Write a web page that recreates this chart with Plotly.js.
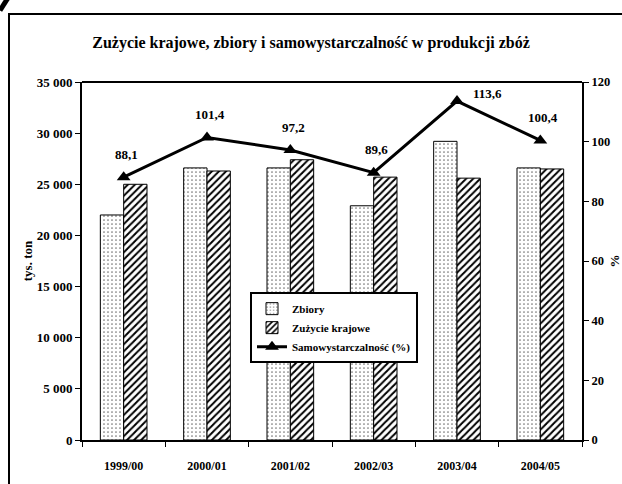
<!DOCTYPE html>
<html><head><meta charset="utf-8">
<script src="https://cdn.plot.ly/plotly-3.0.1.min.js"></script>
<style>body{margin:0;padding:0;background:#fff}#chart{width:622px;height:484px}</style>
</head><body><div id="chart"></div>
<script>
const categories = ["1999/00","2000/01","2001/02","2002/03","2003/04","2004/05"];
const zbiory = [22000, 26600, 26600, 22900, 29200, 26600];
const zuzycie = [25000, 26300, 27400, 25700, 25600, 26500];
const samowystarczalnosc = [88.1, 101.4, 97.2, 89.6, 113.6, 100.4];
const lineLabels = samowystarczalnosc.map(v => v.toFixed(1).replace('.', ','));

const FAM = "Liberation Serif";
const font = {family: FAM, color: "#000", size: 12};

const traces = [
  {type: "bar", name: "Zbiory", x: categories, y: zbiory, legendgroup: "a",
   marker: {color: "#fff", line: {color: "#000", width: 1},
            pattern: {shape: ".", fgcolor: "#777", bgcolor: "#fff", size: 4, solidity: 0.15}}},
  {type: "bar", name: "Zużycie krajowe", x: categories, y: zuzycie, legendgroup: "b",
   marker: {color: "#fff", line: {color: "#000", width: 1},
            pattern: {shape: "/", fgcolor: "#000", bgcolor: "#fff", size: 5, solidity: 0.4}}},
  {type: "scatter", mode: "lines+markers", name: "Samowystarczalność (%)", legendgroup: "c",
   x: categories, y: samowystarczalnosc, yaxis: "y2", cliponaxis: false,
   line: {color: "#000", width: 3}, marker: {symbol: "triangle-up", size: 12, color: "#000"}}
];

const maxVal = Math.max(...samowystarczalnosc);
const labelAnnotations = categories.map((c, i) => {
  const isMax = samowystarczalnosc[i] === maxVal;
  return {x: c, y: samowystarczalnosc[i], xref: "x", yref: "y2", text: lineLabels[i],
          showarrow: false, xanchor: "center", yanchor: "middle",
          xshift: isMax ? 30 : 3, yshift: isMax ? 8 : 23,
          font: {family: FAM, size: 13, color: "#000", weight: "bold"}};
});

const layout = {
  width: 622, height: 484,
  margin: {l: 82, r: 40, t: 82, b: 44},
  paper_bgcolor: "#fff", plot_bgcolor: "#fff",
  font: font,
  separators: ", ",
  showlegend: true,
  barmode: "group", bargap: 0.44, bargroupgap: 0,
  title: {text: "Zużycie krajowe, zbiory i samowystarczalność w produkcji zbóż",
          x: 0.5, xanchor: "center", y: 0.913, yanchor: "middle",
          font: {family: FAM, size: 16, color: "#000", weight: "bold"}},
  xaxis: {type: "category", showline: true, linecolor: "#000", linewidth: 2, mirror: false,
          ticks: "outside", tickson: "boundaries", ticklen: 5, tickcolor: "#000",
          tickfont: {family: FAM, size: 12, weight: "bold"}, showgrid: false,
          ticklabelstandoff: 14},
  yaxis: {range: [0, 35000], dtick: 5000, tickformat: ",d", showline: true, linecolor: "#000",
          linewidth: 2, ticks: "outside", ticklen: 5, tickcolor: "#000", showgrid: false, zeroline: false,
          tickfont: {family: FAM, size: 13, weight: "bold"},
          title: {text: "tys. ton", font: {family: FAM, size: 13, weight: "bold"}, standoff: 1}},
  yaxis2: {range: [0, 120], dtick: 20, overlaying: "y", side: "right", showline: true,
           linecolor: "#000", linewidth: 2, ticks: "outside", ticklen: 5, tickcolor: "#000",
           showgrid: false, zeroline: false,
           tickfont: {family: FAM, size: 12.5, weight: "bold"},
           title: {text: "%", font: {family: FAM, size: 13, weight: "bold"}, standoff: 3}},
  legend: {x: 0.336, y: 0.413, xanchor: "left", yanchor: "top", bgcolor: "#fff",
           bordercolor: "#000", borderwidth: 2,
           font: {family: FAM, size: 11, weight: "bold"}, tracegroupgap: 5,
           traceorder: "normal"},
  annotations: labelAnnotations,
  shapes: [
    {type: "line", xref: "paper", yref: "paper", x0: 0, x1: 1, y0: 1, y1: 1,
     line: {color: "#000", width: 2}},
    {type: "rect", xref: "paper", yref: "paper", x0: -0.146, x1: 1.2, y0: -0.4, y1: 1.19,
     line: {color: "#000", width: 2}},
    {type: "line", xref: "paper", yref: "paper", x0: -0.164, x1: -0.148, y0: 1.2, y1: 1.235,
     line: {color: "#000", width: 5}}
  ]
};

Plotly.newPlot("chart", traces, layout, {displayModeBar: false, staticPlot: true});
</script>
</body></html>
